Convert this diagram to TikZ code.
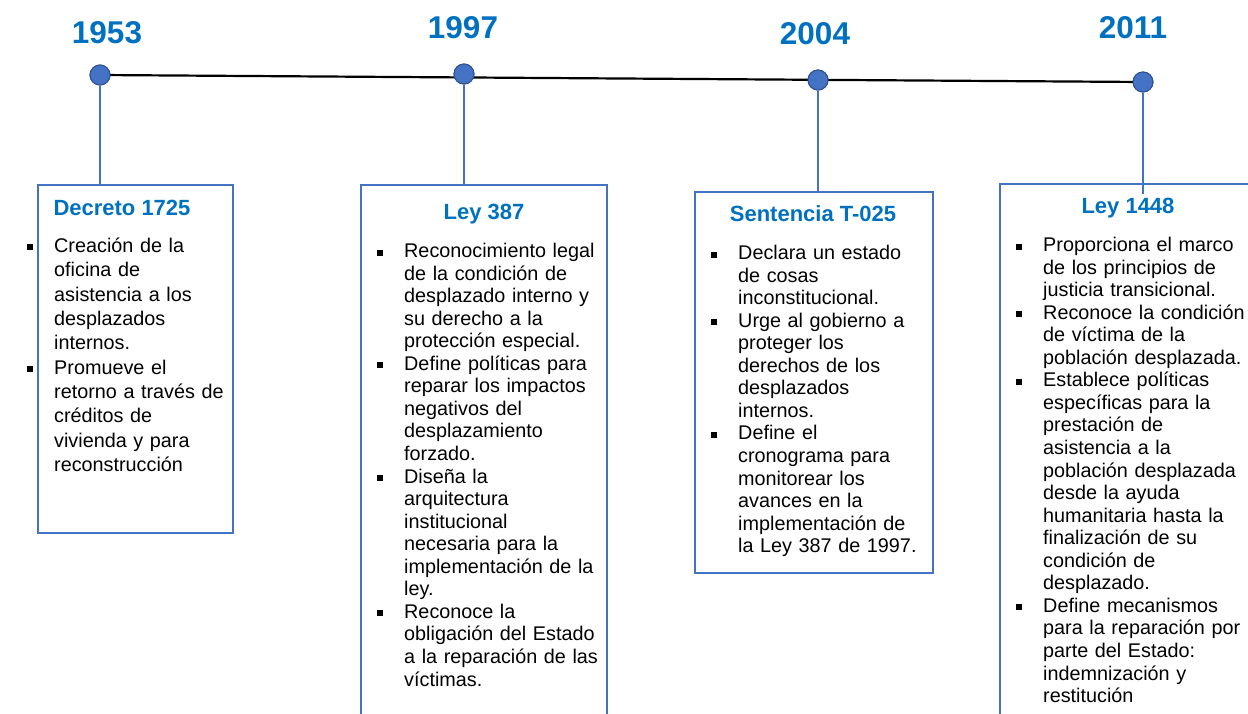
\documentclass[tikz,border=0pt]{standalone}
\usepackage{fontspec}
\setmainfont{Liberation Sans}
\usepackage{tikz}
\usetikzlibrary{positioning}
\definecolor{tlblue}{RGB}{0,112,192}
\definecolor{tldot}{RGB}{68,114,196}
\definecolor{tldotedge}{RGB}{47,82,143}
\tikzstyle{year} = [font=\bfseries\fontsize{31.5}{36}\selectfont, text=tlblue, anchor=base, inner sep=0pt]
\tikzstyle{event} = [circle, fill=tldot, draw=tldotedge, line width=1pt, minimum size=20pt, inner sep=0pt]
\tikzstyle{card} = [draw=tldot, line width=1.3pt, anchor=north west, inner sep=0pt, outer sep=0pt]
\tikzstyle{cardtitle} = [font=\bfseries\fontsize{22}{26}\selectfont, text=tlblue, anchor=base, inner sep=0pt]
\tikzstyle{cardtext} = [font=\fontsize{19.8}{22.55}\selectfont, text width=240pt, align=left, anchor=base west, inner sep=0pt]
\tikzstyle{stem} = [line width=1.3pt, color=tldot]
\newcommand{\itm}{\par\noindent\llap{\rule[2pt]{6pt}{6pt}\hspace{21pt}}}

\begin{document}
\begin{tikzpicture}[x=1pt, y=-1pt]
\useasboundingbox (0,0) rectangle (1248,713);

% time line with its four dates
\node[event] (d1) at (100,75) {};
\node[event] (d2) at (464,74) {};
\node[event] (d3) at (818,80) {};
\node[event] (d4) at (1143,82) {};
\draw[line width=2.2pt] (d1.center) -- (d4.center);
\foreach \d in {d1,d2,d3,d4} \node[event] at (\d) {};

\node[year] (y1) at (107,43) {1953};
\node[year] (y2) at (463,38) {1997};
\node[year] (y3) at (815,44) {2004};
\node[year] (y4) at (1133,38) {2011};

% cards
\node[card, minimum width=195pt, minimum height=348pt] (b1) at (38,185) {};
\node[card, minimum width=246pt, minimum height=540pt] (b2) at (361,185) {};
\node[card, minimum width=238pt, minimum height=381pt] (b3) at (695,192) {};
\node[card, minimum width=270pt, minimum height=540pt] (b4) at (1000,184) {};

\coordinate (s4) at (1143,194);
\draw[stem] (d1) -- (d1 |- b1.north);
\draw[stem] (d2) -- (d2 |- b2.north);
\draw[stem] (d3) -- (d3 |- b3.north);
\draw[stem] (d4) -- (s4);

\node[cardtitle] (t1) at (122,215) {Decreto 1725};
\node[cardtitle] (t2) at (484,219) {Ley 387};
\node[cardtitle] (t3) at (813,221) {Sentencia T-025};
\node[cardtitle] (t4) at (1128,213) {Ley 1448};

\node[cardtext, font=\fontsize{19.8}{24.35}\selectfont] (l1) at (54,228) {%
\itm Creación de la\\oficina de\\asistencia a los\\desplazados\\internos.
\itm Promueve el\\retorno a través de\\créditos de\\vivienda y para\\reconstrucción};

\node[cardtext] (l2) at (404,235) {%
\itm Reconocimiento legal\\de la condición de\\desplazado interno y\\su derecho a la\\protección especial.
\itm Define políticas para\\reparar los impactos\\negativos del\\desplazamiento\\forzado.
\itm Diseña la\\arquitectura\\institucional\\necesaria para la\\implementación de la\\ley.
\itm Reconoce la\\obligación del Estado\\a la reparación de las\\víctimas.};

\node[cardtext] (l3) at (738,237) {%
\itm Declara un estado\\de cosas\\inconstitucional.
\itm Urge al gobierno a\\proteger los\\derechos de los\\desplazados\\internos.
\itm Define el\\cronograma para\\monitorear los\\avances en la\\implementación de\\la Ley 387 de 1997.};

\node[cardtext] (l4) at (1043,229) {%
\itm Proporciona el marco\\de los principios de\\justicia transicional.
\itm Reconoce la condición\\de víctima de la\\población desplazada.
\itm Establece políticas\\específicas para la\\prestación de\\asistencia a la\\población desplazada\\desde la ayuda\\humanitaria hasta la\\finalización de su\\condición de\\desplazado.
\itm Define mecanismos\\para la reparación por\\parte del Estado:\\indemnización y\\restitución};
\end{tikzpicture}
\end{document}
